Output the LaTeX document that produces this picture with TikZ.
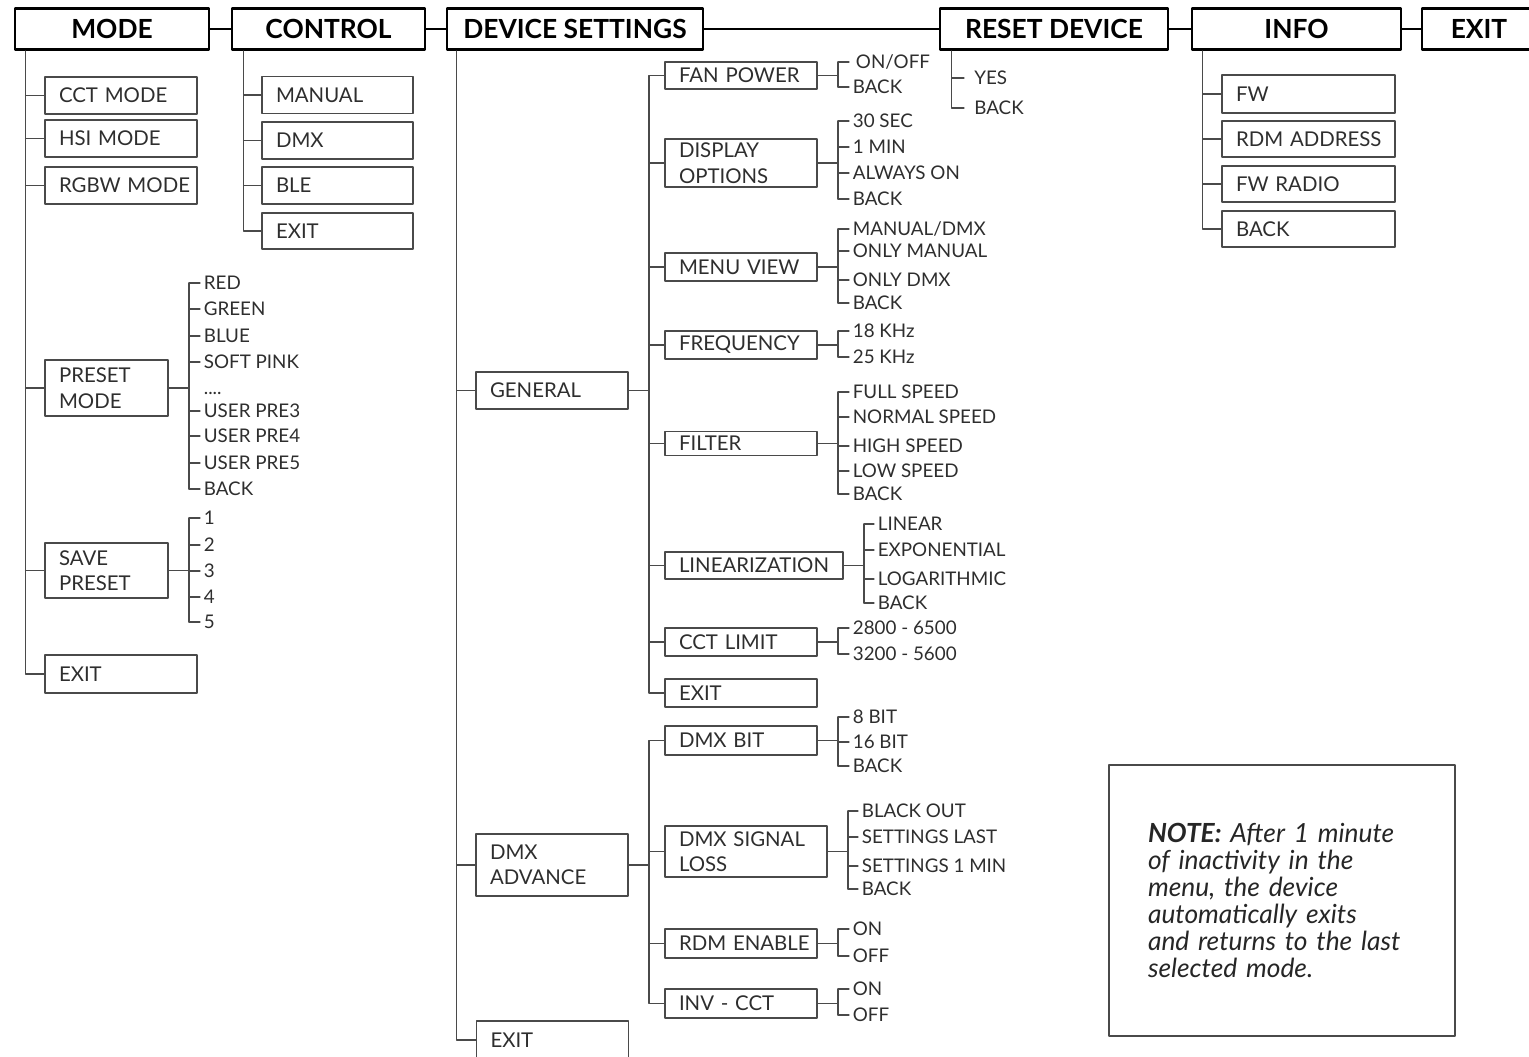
\documentclass[tikz,border=0pt]{standalone}
\usepackage{fontspec}
\setmainfont{Lato}
\usetikzlibrary{calc}
\hyphenpenalty=10000
\definecolor{wiregray}{HTML}{4A4A4A}
\definecolor{ink}{HTML}{2E2E2E}
\tikzstyle{every path}=[line cap=round,line join=round]
\tikzstyle{wire}=[draw=wiregray,line width=0.7pt]
\tikzstyle{hline}=[draw=black,line width=0.7pt]
\tikzstyle{hdr}=[draw=black,line width=1.6pt,minimum height=0.82cm,inner sep=0pt,font=\bfseries\fontsize{15}{18}\selectfont]
\tikzstyle{box}=[draw=wiregray,line width=0.75pt,inner xsep=0.28cm,inner ysep=0pt,align=left,text=ink,font=\fontsize{11.6}{14.5}\selectfont]
\tikzstyle{sbox}=[box,text width=2.48cm]
\tikzstyle{item}=[anchor=west,inner xsep=0.07cm,inner ysep=0pt,text height=7.7pt,text depth=0pt,text=ink,font=\fontsize{10.7}{13}\selectfont]
\tikzstyle{note}=[draw=wiregray,line width=0.75pt,minimum width=6.92cm,minimum height=5.42cm,inner xsep=0.78cm,text width=5.36cm,align=left,text=black!85,font=\itshape\fontsize{15}{15.3}\selectfont]

% parent, bracket x, tick end x, items text/y
\newcommand{\sublist}[4]{%
  \coordinate (#1b) at (#2,0 |- #1.east);
  \draw[wire] (#1.east) -- (#1b);
  \foreach \txt/\yy [count=\n] in {#4} {
    \node[item] (#1\n) at (#3,\yy) {\txt};
    \draw[wire] (#1b |- #1\n.west) -- (#1\n.west);
    \ifnum\n>1
      \pgfmathtruncatemacro{\m}{\n-1}
      \draw[wire] (#1b |- #1\m.west) -- (#1b |- #1\n.west);
    \fi
  }
}

\begin{document}
\begin{tikzpicture}[x=0.02cm,y=-0.02cm]
  \useasboundingbox (0,0) rectangle (1529,1057);
  % top row
  \node[hdr,minimum width=3.88cm] (mode) at (112,29) {MODE};
  \node[hdr,minimum width=3.86cm] (control) at (328.5,29) {CONTROL};
  \node[hdr,minimum width=5.12cm] (devset) at (575,29) {DEVICE SETTINGS};
  \node[hdr,minimum width=4.56cm] (reset) at (1054,29) {RESET DEVICE};
  \node[hdr,minimum width=4.18cm] (info) at (1296.5,29) {INFO};
  \node[hdr,minimum width=2.28cm] (exit) at (1479,29) {EXIT};
  \foreach \a/\b in {mode/control,control/devset,devset/reset,reset/info,info/exit}
    \draw[hline] (\a) -- (\b);

  % mode
  \node[sbox,minimum height=0.74cm] (cct) at (121,95.5) {CCT~MODE};
  \node[sbox,minimum height=0.74cm] (hsi) at (121,138.5) {HSI~MODE};
  \node[sbox,minimum height=0.74cm] (rgbw) at (121,185.5) {RGBW~MODE};
  \node[box,text width=1.9cm,minimum height=1.12cm] (preset) at (106.5,388) {PRESET\\MODE};
  \node[box,text width=1.9cm,minimum height=1.1cm] (save) at (106.5,570.5) {SAVE\\PRESET};
  \node[sbox,minimum height=0.76cm] (mexit) at (121,674) {EXIT};
  \coordinate (mt) at ([xshift=0.24cm]mode.south west);
  \draw[wire] (mt) |- (mexit.west);
  \foreach \b in {cct,hsi,rgbw,preset,save}
    \draw[wire] (mt |- \b.west) -- (\b.west);
  \sublist{preset}{189}{200}{RED/283, GREEN/309, BLUE/336, SOFT PINK/362, USER PRE3/411, USER PRE4/436, USER PRE5/463, BACK/489}
  \node[item] (dots) at (200,388) {....};
  \sublist{save}{189}{200}{1/518, 2/545, 3/571, 4/597, 5/622}

  % control
  \node[box,text width=2.46cm,minimum height=0.74cm] (manual) at (337.5,95) {MANUAL};
  \node[box,text width=2.46cm,minimum height=0.74cm] (dmx) at (337.5,140.5) {DMX};
  \node[box,text width=2.46cm,minimum height=0.74cm] (ble) at (337.5,185.5) {BLE};
  \node[box,text width=2.46cm,minimum height=0.72cm] (cexit) at (337.5,231) {EXIT};
  \coordinate (ct) at ([xshift=0.26cm]control.south west);
  \draw[wire] (ct) |- (cexit.west);
  \foreach \b in {manual,dmx,ble}
    \draw[wire] (ct |- \b.west) -- (\b.west);

  % device settings
  \node[sbox,minimum height=0.74cm] (general) at (552,390.5) {GENERAL};
  \node[sbox,minimum height=1.24cm] (dmxadv) at (552,865) {DMX\\ADVANCE};
  \node[sbox,minimum height=0.76cm] (dexit) at (552.5,1040) {EXIT};
  \coordinate (dt) at ([xshift=0.22cm]devset.south west);
  \draw[wire] (dt) |- (dexit.west);
  \foreach \b in {general,dmxadv}
    \draw[wire] (dt |- \b.west) -- (\b.west);

  % general
  \node[sbox,minimum height=0.54cm] (fan) at (741,75.5) {FAN~POWER};
  \node[sbox,minimum height=0.96cm] (disp) at (741,163) {DISPLAY\\OPTIONS};
  \node[sbox,minimum height=0.56cm] (menu) at (741,267) {MENU~VIEW};
  \node[sbox,minimum height=0.56cm] (freq) at (741,345) {FREQUENCY};
  \node[sbox,minimum height=0.47cm] (filter) at (741,443.5) {FILTER};
  \node[box,text width=3cm,minimum height=0.54cm] (linear) at (754,565.5) {LINEARIZATION};
  \node[sbox,minimum height=0.56cm] (cctl) at (741,642) {CCT~LIMIT};
  \node[sbox,minimum height=0.56cm] (gexit) at (741,693) {EXIT};
  \coordinate (gt) at (649,0 |- general.east);
  \draw[wire] (general.east) -- (gt);
  \draw[wire] (fan.west) -| (gt) |- (gexit.west);
  \foreach \b in {disp,menu,freq,filter,linear,cctl}
    \draw[wire] (gt |- \b.west) -- (\b.west);
  \sublist{fan}{838}{849}{{\,ON/OFF}/62, BACK/87}
  \sublist{disp}{838}{849}{30 SEC/121, 1 MIN/147, ALWAYS ON/173, BACK/199}
  \sublist{menu}{838}{849}{{MANUAL/DMX}/229, ONLY MANUAL/251, ONLY DMX/280, BACK/303}
  \sublist{freq}{838}{849}{18 KHz/331, 25 KHz/357}
  \sublist{filter}{838}{849}{FULL SPEED/392, NORMAL SPEED/417, HIGH SPEED/446, LOW SPEED/471, BACK/494}
  \sublist{linear}{864}{874}{LINEAR/524, EXPONENTIAL/550, LOGARITHMIC/579, BACK/603}
  \sublist{cctl}{838}{849}{2800 - 6500/628, 3200 - 5600/654}

  % dmx advance
  \node[sbox,minimum height=0.58cm] (dbit) at (741,740.5) {DMX~BIT};
  \node[box,text width=2.68cm,minimum height=1.02cm] (dsig) at (746,851.5) {DMX SIGNAL\\LOSS};
  \node[sbox,minimum height=0.58cm] (rdm) at (741,943.5) {RDM~ENABLE};
  \node[sbox,minimum height=0.58cm] (inv) at (741,1003.5) {INV~-~CCT};
  \coordinate (at) at (649,0 |- dmxadv.east);
  \draw[wire] (dmxadv.east) -- (at);
  \draw[wire] (dbit.west) -| (at) |- (inv.west);
  \foreach \b in {dsig,rdm}
    \draw[wire] (at |- \b.west) -- (\b.west);
  \sublist{dbit}{838}{849}{8 BIT/717, 16 BIT/742, BACK/766}
  \sublist{dsig}{848}{858}{BLACK OUT/811, SETTINGS LAST/837, SETTINGS 1 MIN/866, BACK/889}
  \sublist{rdm}{838}{849}{ON/929, OFF/956}
  \sublist{inv}{838}{849}{ON/989, OFF/1015}

  % reset device
  \node[item,inner xsep=0.2cm] (ryes) at (964,78) {YES};
  \node[item,inner xsep=0.2cm] (rback) at (964,108) {BACK};
  \coordinate (rt) at ([xshift=0.26cm]reset.south west);
  \draw[wire] (rt) |- (rback.west);
  \draw[wire] (rt |- ryes.west) -- (ryes.west);

  % info
  \node[box,text width=2.9cm,minimum height=0.76cm] (fw) at (1308.5,94) {FW};
  \node[box,text width=2.9cm,minimum height=0.72cm] (rdmaddr) at (1308.5,139) {RDM~ADDRESS};
  \node[box,text width=2.9cm,minimum height=0.72cm] (fwradio) at (1308.5,184) {FW~RADIO};
  \node[box,text width=2.9cm,minimum height=0.72cm] (iback) at (1308.5,229) {BACK};
  \coordinate (it) at ([xshift=0.24cm]info.south west);
  \draw[wire] (it) |- (iback.west);
  \foreach \b in {fw,rdmaddr,fwradio}
    \draw[wire] (it |- \b.west) -- (\b.west);

  % note
  \node[note] (notebox) at (1282,900.5) {\textbf{NOTE:} After 1 minute\\of inactivity in the\\menu, the device\\automatically exits\\and returns to the last\\selected mode.};
\end{tikzpicture}
\end{document}
